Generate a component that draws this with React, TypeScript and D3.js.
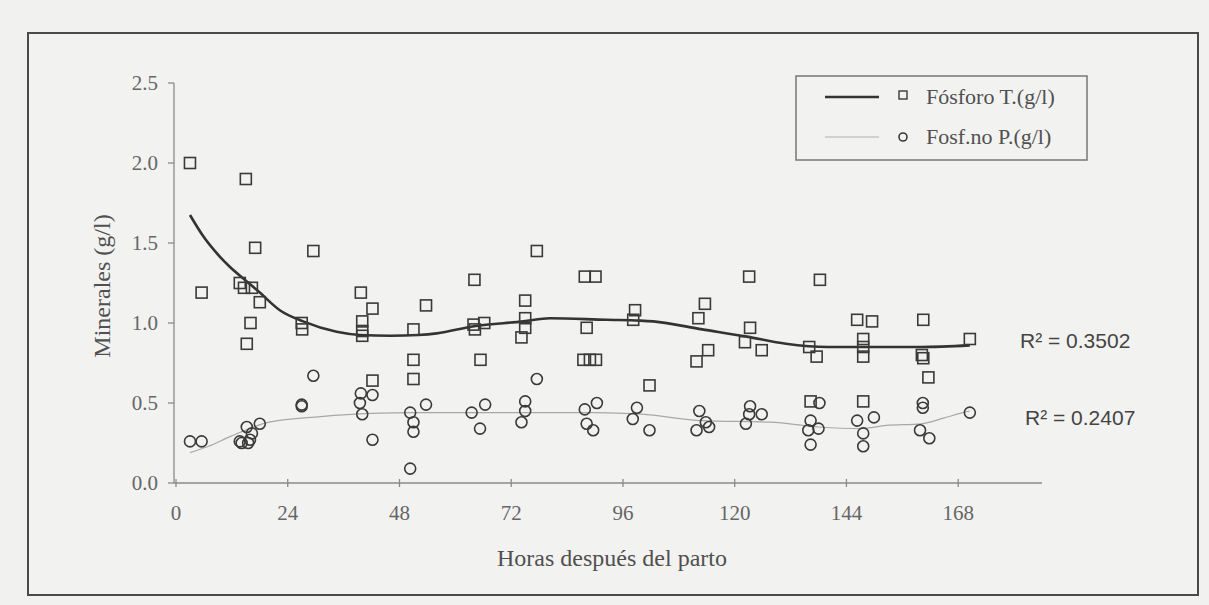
import React from 'react';
import * as d3 from 'd3';

const width = 1209;
const height = 605;
const ink = '#3a3a3a';
const axisGray = '#8a8a8a';
const textGray = '#505050';

// Fósforo T. (g/l) — squares
const hoursT = [3, 15, 17, 29.5, 5.5, 13.7, 14.6, 16.3, 18, 16, 15.2, 27, 27.1, 39.7, 42.2, 40, 40, 40, 42.2,
  51, 51, 51, 53.7, 64.1, 63.9, 66.2, 64.2, 65.4, 77.5, 75, 75, 75, 74.2, 87.8, 90.1, 88.2, 87.5, 88.9, 90.2,
  98.6, 98.2, 113.6, 112.2, 114.3, 111.8, 101.7, 123.1, 123.3, 122.2, 125.8, 138.3, 136, 137.6, 146.3, 149.5,
  147.6, 147.6, 147.6, 136.3, 147.6, 160.5, 160.2, 160.5, 161.6, 170.5];
const valuesT = [2.0, 1.9, 1.47, 1.45, 1.19, 1.25, 1.22, 1.22, 1.13, 1.0, 0.87, 1.0, 0.96, 1.19, 1.09, 1.01, 0.95, 0.92, 0.64,
  0.96, 0.77, 0.65, 1.11, 1.27, 0.99, 1.0, 0.96, 0.77, 1.45, 1.14, 1.03, 0.97, 0.91, 1.29, 1.29, 0.97, 0.77, 0.77, 0.77,
  1.08, 1.02, 1.12, 1.03, 0.83, 0.76, 0.61, 1.29, 0.97, 0.88, 0.83, 1.27, 0.85, 0.79, 1.02, 1.01,
  0.9, 0.85, 0.79, 0.51, 0.51, 1.02, 0.8, 0.78, 0.66, 0.9];

// Fosf. no P. (g/l) — circles
const hoursNP = [3, 5.5, 13.7, 14.1, 15.2, 15.5, 15.9, 16.3, 18, 27, 27, 29.5, 39.7, 42.2, 39.5, 40, 42.2,
  50.3, 51, 51, 53.7, 50.3, 63.5, 66.4, 65.3, 77.5, 75, 75, 74.2, 87.8, 90.4, 88.2, 89.6, 99, 98.1, 101.7,
  112.4, 113.8, 111.8, 114.5, 123.3, 123.1, 125.8, 122.4, 136.3, 138.2, 135.8, 138, 136.3, 146.3, 149.9,
  147.6, 147.6, 160.4, 160.4, 159.8, 161.8, 170.5];
const valuesNP = [0.26, 0.26, 0.26, 0.25, 0.35, 0.25, 0.27, 0.31, 0.37, 0.49, 0.48, 0.67, 0.56, 0.55, 0.5, 0.43, 0.27,
  0.44, 0.38, 0.32, 0.49, 0.09, 0.44, 0.49, 0.34, 0.65, 0.51, 0.45, 0.38, 0.46, 0.5, 0.37, 0.33, 0.47, 0.4, 0.33,
  0.45, 0.38, 0.33, 0.35, 0.48, 0.43, 0.43, 0.37, 0.39, 0.5, 0.33, 0.34, 0.24, 0.39, 0.41,
  0.31, 0.23, 0.5, 0.47, 0.33, 0.28, 0.44];

// trend lines
const trendTHours = [3, 5.9, 9.4, 11.6, 15.2, 18, 22.3, 27.3, 34.5, 39.5, 46, 52, 56, 64, 74.6, 80.3, 92.5, 99.7,
  102.5, 113, 122.6, 131, 140, 149, 160, 170.5];
const trendTValues = [1.675, 1.54, 1.415, 1.35, 1.26, 1.19, 1.08, 1.01, 0.945, 0.925, 0.92, 0.925, 0.935, 0.98, 1.01,
  1.03, 1.02, 1.015, 1.01, 0.96, 0.915, 0.87, 0.85, 0.85, 0.85, 0.86];
const trendNPHours = [3, 7, 11.6, 20, 31, 41.7, 52, 70, 90, 100, 113, 127.6, 138, 147, 152.6, 160, 164.8, 168.4, 170.5];
const trendNPValues = [0.19, 0.23, 0.29, 0.38, 0.415, 0.435, 0.44, 0.44, 0.44, 0.43, 0.39, 0.38, 0.35, 0.34, 0.36,
  0.37, 0.405, 0.435, 0.45];

const xTicks = [0, 24, 48, 72, 96, 120, 144, 168];
const yTicks = [0, 0.5, 1.0, 1.5, 2.0, 2.5];
const r2Labels = ['R\u00b2 = 0.3502', 'R\u00b2 = 0.2407'];

const x = d3.scaleLinear().domain([0, 186]).range([176, 1042]);
const y = d3.scaleLinear().domain([0, 2.5]).range([483, 83]);

const line = d3.line<[number, number]>()
  .x(d => x(d[0]))
  .y(d => y(d[1]))
  .curve(d3.curveMonotoneX);

const serif = '"Liberation Serif", "DejaVu Serif", serif';
const sans = '"Liberation Sans", Arial, sans-serif';

export default function App() {
  const trendT = line(trendTHours.map((h, i) => [h, trendTValues[i]]));
  const trendNP = line(trendNPHours.map((h, i) => [h, trendNPValues[i]]));
  const sq = 11;

  return (
    <svg width={width} height={height} style={{ position: 'absolute', left: 0, top: 0 }}>
      <rect x={0} y={0} width={width} height={height} fill="#f1f1f0" />
      <rect x={28} y={33} width={1170} height={562} fill="#f2f2f1" stroke="#4a4a4a" strokeWidth={2} />

      {/* axes */}
      <line x1={174} x2={174} y1={y(2.5)} y2={y(0)} stroke={axisGray} strokeWidth={1.3} />
      <line x1={174} x2={1042} y1={y(0)} y2={y(0)} stroke={axisGray} strokeWidth={1.3} />
      {yTicks.map(t => (
        <g key={t}>
          <line x1={168} x2={174} y1={y(t)} y2={y(t)} stroke={axisGray} strokeWidth={1.3} />
          <text x={158} y={y(t) + 7} textAnchor="end" fontFamily={serif} fontSize={21} fill="#666">
            {t.toFixed(1)}
          </text>
        </g>
      ))}
      {xTicks.map(t => (
        <g key={t}>
          <line x1={x(t)} x2={x(t)} y1={y(0) - 4} y2={y(0) + 4} stroke={axisGray} strokeWidth={1.3} />
          <text x={x(t)} y={520} textAnchor="middle" fontFamily={serif} fontSize={21} fill="#666">
            {t}
          </text>
        </g>
      ))}
      <text x={612} y={566} textAnchor="middle" fontFamily={serif} fontSize={24} fill={textGray}>
        Horas después del parto
      </text>
      <text transform="translate(110,286) rotate(-90)" textAnchor="middle" fontFamily={serif} fontSize={24} fill={textGray}>
        Minerales (g/l)
      </text>

      {/* trend lines */}
      <path d={trendNP ?? ''} fill="none" stroke="#a8a8a8" strokeWidth={1.2} />
      <path d={trendT ?? ''} fill="none" stroke="#333" strokeWidth={2.6} />

      {/* points */}
      {hoursT.map((h, i) => (
        <rect key={'t' + i} x={x(h) - sq / 2} y={y(valuesT[i]) - sq / 2} width={sq} height={sq}
          fill="none" stroke={ink} strokeWidth={1.6} />
      ))}
      {hoursNP.map((h, i) => (
        <circle key={'n' + i} cx={x(h)} cy={y(valuesNP[i])} r={5.5} fill="none" stroke={ink} strokeWidth={1.6} />
      ))}

      {/* R² */}
      <text x={1020} y={348} fontFamily={sans} fontSize={21} fill="#444">{r2Labels[0]}</text>
      <text x={1025} y={425} fontFamily={sans} fontSize={21} fill="#444">{r2Labels[1]}</text>

      {/* legend */}
      <rect x={796} y={76} width={291} height={84} fill="#f2f2f1" stroke="#777" strokeWidth={1.5} />
      <line x1={825} x2={879} y1={97} y2={97} stroke="#333" strokeWidth={2.6} />
      <rect x={899} y={91} width={8} height={8} fill="none" stroke={ink} strokeWidth={1.4} />
      <text x={926} y={104} fontFamily={serif} fontSize={22} fill={textGray}>Fósforo T.(g/l)</text>
      <line x1={825} x2={879} y1={137} y2={137} stroke="#b0b0b0" strokeWidth={1.2} />
      <circle cx={903} cy={137} r={4} fill="none" stroke={ink} strokeWidth={1.6} />
      <text x={926} y={144} fontFamily={serif} fontSize={22} fill={textGray}>Fosf.no P.(g/l)</text>
    </svg>
  );
}
